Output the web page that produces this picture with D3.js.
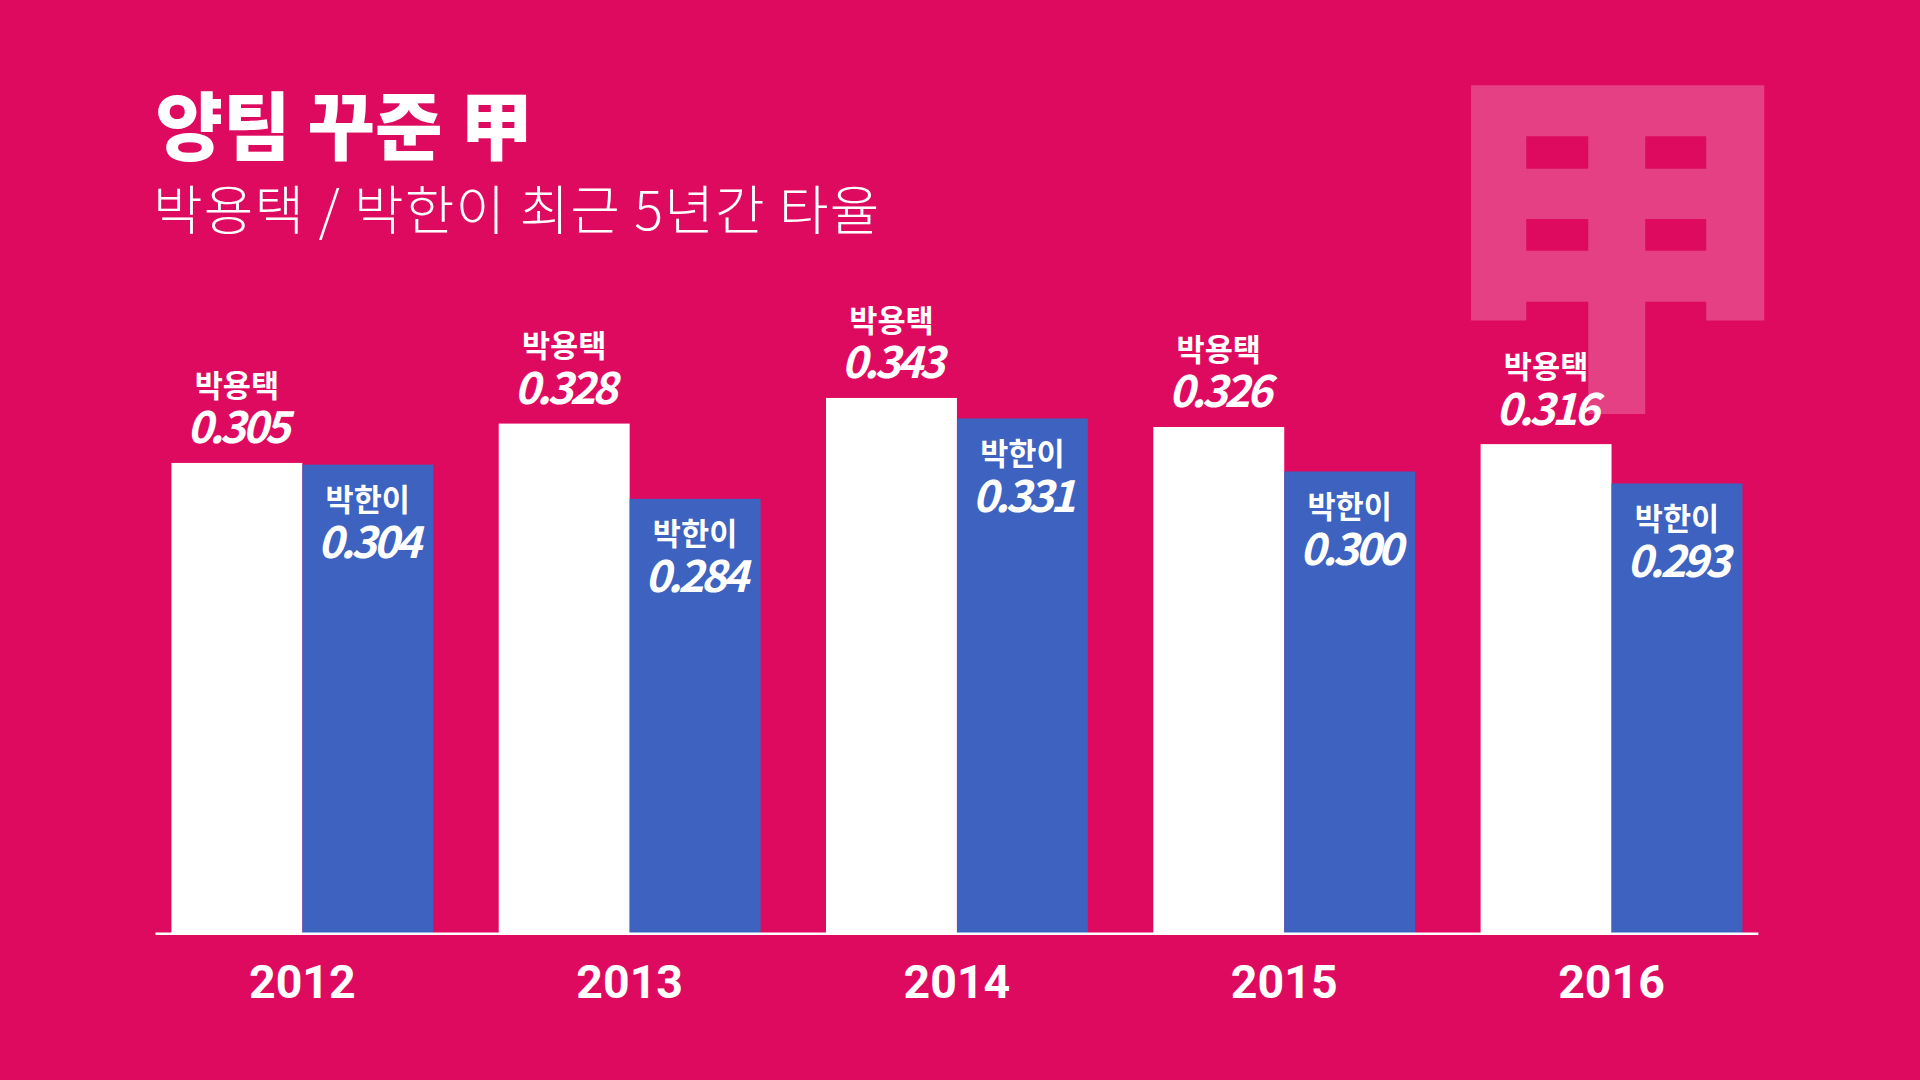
<!DOCTYPE html>
<html><head><meta charset="utf-8">
<script src="https://cdn.jsdelivr.net/npm/d3@7"></script>
<style>body{margin:0;background:#DE0A60;overflow:hidden}text{font-family:"Noto Sans CJK KR","Noto Sans",sans-serif}</style>
</head><body>
<script>
const years = ["2012","2013","2014","2015","2016"];
const parkYT = [0.305, 0.328, 0.343, 0.326, 0.316];
const parkHI = [0.304, 0.284, 0.331, 0.300, 0.293];
const names = ["박용택", "박한이"];

const W = 1568, H = 882;
const svg = d3.select("body").append("svg")
  .attr("width", 1920).attr("height", 1080)
  .attr("viewBox", `0 0 ${W} ${H}`);

svg.append("rect").attr("width", W).attr("height", H).attr("fill", "#DE0A60");

// watermark
svg.append("text").attr("x", 1319).attr("y", 310).attr("text-anchor", "middle")
  .attr("font-size", 300).attr("font-weight", 900).attr("fill", "#fff").attr("opacity", 0.22).text("甲");

svg.append("text").attr("x", 127).attr("y", 126).attr("font-size", 60).attr("font-weight", 900)
  .attr("fill", "#fff").text("양팀 꾸준 甲");
svg.append("text").attr("x", 125).attr("y", 188).attr("font-size", 44).attr("font-weight", 300)
  .attr("letter-spacing", 1).attr("fill", "#fff").text("박용택 / 박한이 최근 5년간 타율");

const x = d3.scaleBand().domain(years).range([140, 1423]).paddingInner(0.2).paddingOuter(0);
const y = d3.scaleLinear().domain([0.03, 0.343]).range([762, 325]);
const sub = d3.scaleBand().domain([0, 1]).range([0, x.bandwidth()]);

const g = svg.append("g").selectAll("g").data(years).join("g")
  .attr("transform", d => `translate(${x(d)},0)`);

years.forEach((yr, i) => {
  const grp = g.filter(d => d === yr);
  const vals = [parkYT[i], parkHI[i]];
  vals.forEach((v, k) => {
    const bx = sub(k), bw = sub.bandwidth(), top = y(v);
    grp.append("rect").attr("x", bx).attr("y", top).attr("width", bw).attr("height", 762 - top)
      .attr("fill", k === 0 ? "#fff" : "#3D62C0");
    const cx = bx + bw / 2;
    const ny = k === 0 ? top - 54 : top + 38;
    const vy = k === 0 ? top - 16 : top + 76;
    grp.append("text").attr("x", cx).attr("y", ny).attr("text-anchor", "middle")
      .attr("font-size", 25).attr("font-weight", 700).attr("fill", "#fff").text(names[k]);
    grp.append("text").attr("x", cx).attr("y", vy).attr("text-anchor", "middle")
      .attr("font-size", 36).attr("font-weight", 700).attr("font-style", "italic")
      .attr("letter-spacing", -3).attr("fill", "#fff").text(v.toFixed(3));
  });
});

svg.append("line").attr("x1", 127).attr("x2", 1436).attr("y1", 762.5).attr("y2", 762.5)
  .attr("stroke", "#fff").attr("stroke-width", 2);

svg.append("g").selectAll("text").data(years).join("text")
  .attr("x", d => x(d) + x.bandwidth() / 2).attr("y", 815).attr("text-anchor", "middle")
  .attr("font-size", 38).attr("font-weight", 700).attr("fill", "#fff")
  .style("font-family", "Roboto, sans-serif").text(d => d);
</script>
</body></html>
